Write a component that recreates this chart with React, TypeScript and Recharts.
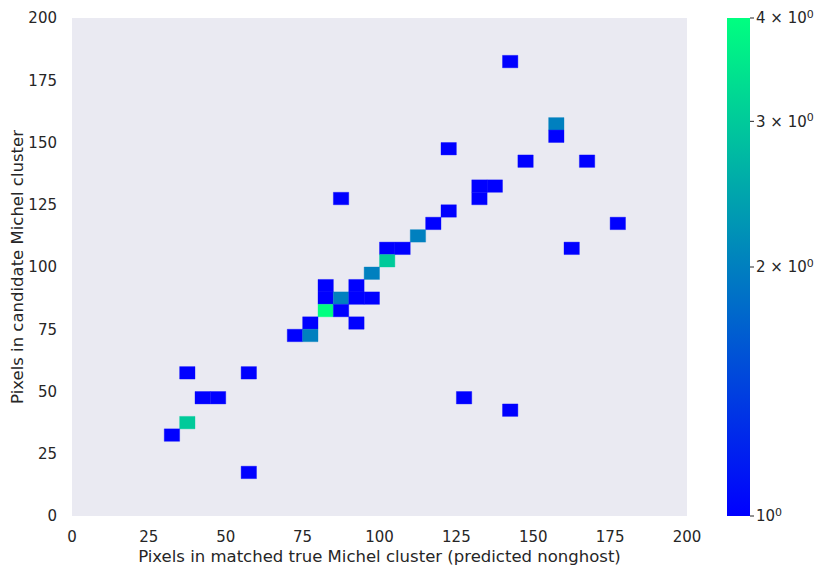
import React from 'react';
import {
  ScatterChart,
  ComposedChart,
  Scatter,
  XAxis,
  YAxis,
  CartesianGrid,
  ReferenceArea,
  Label,
} from 'recharts';

// 2D histogram bins (lower-left corner of each 5x5 bin) and their counts
const binX = [140, 155, 155, 120, 145, 165, 130, 135, 130, 85, 120, 175, 115, 110, 160, 100, 105, 100, 95, 80, 90, 80, 85, 90, 95, 80, 85, 75, 90, 70, 75, 35, 55, 40, 45, 125, 140, 35, 30, 55];
const binY = [180, 155, 150, 145, 140, 140, 130, 130, 125, 125, 120, 115, 115, 110, 105, 105, 105, 100, 95, 90, 90, 85, 85, 85, 85, 80, 80, 75, 75, 70, 70, 55, 55, 45, 45, 45, 40, 35, 30, 15];
const binCount = [1, 2, 1, 1, 1, 1, 1, 1, 1, 1, 1, 1, 1, 2, 1, 1, 1, 3, 2, 1, 1, 1, 2, 1, 1, 4, 1, 1, 1, 1, 2, 1, 1, 1, 1, 1, 1, 3, 1, 1];
const binSize = 5;

const xTicks = [0, 25, 50, 75, 100, 125, 150, 175, 200];
const yTicks = [0, 25, 50, 75, 100, 125, 150, 175, 200];
const cbTicks = [1, 2, 3, 4];
const cbMin = 1;
const cbMax = 4;

const xLabel = 'Pixels in matched true Michel cluster (predicted nonghost)';
const yLabel = 'Pixels in candidate Michel cluster';

const FONT = 'DejaVu Sans';
const TEXT = '#262626';

// matplotlib "winter" colormap with log normalisation
const winter = (c: number) => {
  const t = Math.log(c / cbMin) / Math.log(cbMax / cbMin);
  const g = Math.round(255 * t);
  const b = Math.round(255 * (1 - 0.5 * t));
  return `rgb(0,${g},${b})`;
};

const cells = binX.map((x, i) => ({ x: x + binSize / 2, y: binY[i] + binSize / 2, x0: x, y0: binY[i], count: binCount[i] }));
const cbData = [{ x: 0, y: cbMin }, { x: 1, y: cbMax }];

const EmptyShape = () => <g />;

const CbTick = (props: any) => {
  const { x, y, payload } = props;
  const v = payload.value;
  return (
    <text x={x} y={y} dy="0.36em" fill={TEXT} fontSize={15} fontFamily={FONT} textAnchor="start">
      {v === 1 ? '10' : `${v} \u00d7 10`}
      <tspan dy="-0.5em" fontSize={11}>0</tspan>
    </text>
  );
};

const YLabelContent = (props: any) => {
  const vb = props.viewBox || { x: 0, y: 18, width: 72, height: 498 };
  const cx = 17;
  const cy = vb.y + vb.height / 2;
  return (
    <text
      x={cx}
      y={cy}
      transform={`rotate(-90 ${cx} ${cy})`}
      textAnchor="middle"
      dominantBaseline="central"
      fill={TEXT}
      fontSize={16.5}
      fontFamily={FONT}
    >
      {yLabel}
    </text>
  );
};

export default function App() {
  return (
    <div style={{ position: 'absolute', left: 0, top: 0, width: 817, height: 565, background: '#fff' }}>
      <ScatterChart
        width={817}
        height={565}
        margin={{ top: 18, right: 130, bottom: 0, left: 0 }}
        style={{ position: 'absolute', left: 0, top: 0 }}
      >
        <CartesianGrid horizontal={false} vertical={false} fill="#EAEAF2" stroke="none" />
        <XAxis
          type="number"
          dataKey="x"
          domain={[0, 200]}
          ticks={xTicks}
          allowDataOverflow
          height={49}
          axisLine={false}
          tickLine={false}
          tickSize={0}
          tickMargin={15}
          tick={{ fill: TEXT, fontSize: 15, fontFamily: FONT }}
        >
          <Label value={xLabel} position="insideBottom" offset={3} fill={TEXT} fontSize={16.5} fontFamily={FONT} />
        </XAxis>
        <YAxis
          type="number"
          dataKey="y"
          domain={[0, 200]}
          ticks={yTicks}
          allowDataOverflow
          width={72}
          axisLine={false}
          tickLine={false}
          tickSize={0}
          tickMargin={15}
          tick={{ fill: TEXT, fontSize: 15, fontFamily: FONT }}
        >
          <Label content={<YLabelContent />} />
        </YAxis>
        <Scatter data={cells} shape={<EmptyShape />} isAnimationActive={false} />
        {cells.map((c, i) => (
          <ReferenceArea
            key={i}
            x1={c.x0}
            x2={c.x0 + binSize}
            y1={c.y0}
            y2={c.y0 + binSize}
            fill={winter(c.count)}
            fillOpacity={1}
            stroke={winter(c.count)}
            strokeOpacity={0.35}
            strokeWidth={1}
            ifOverflow="visible"
          />
        ))}
      </ScatterChart>

      <ComposedChart
        width={90}
        height={565}
        data={cbData}
        margin={{ top: 18, right: 0, bottom: 49, left: 0 }}
        style={{ position: 'absolute', left: 727, top: 0 }}
      >
        <defs>
          <linearGradient id="winterGrad" x1="0" y1="1" x2="0" y2="0">
            <stop offset="0" stopColor={winter(cbMin)} />
            <stop offset="1" stopColor={winter(cbMax)} />
          </linearGradient>
        </defs>
        <XAxis type="number" dataKey="x" domain={[0, 1]} hide height={0} />
        <YAxis
          type="number"
          dataKey="y"
          orientation="right"
          scale="log"
          domain={[cbMin, cbMax]}
          ticks={cbTicks}
          allowDataOverflow
          width={67}
          axisLine={false}
          tickLine={{ stroke: TEXT, strokeWidth: 1 }}
          tickSize={4}
          tickMargin={2}
          tick={<CbTick />}
        />
        <Scatter dataKey="y" shape={<EmptyShape />} isAnimationActive={false} />
        <ReferenceArea x1={0} x2={1} y1={cbMin} y2={cbMax} fill="url(#winterGrad)" fillOpacity={1} ifOverflow="visible" />
      </ComposedChart>
    </div>
  );
}
